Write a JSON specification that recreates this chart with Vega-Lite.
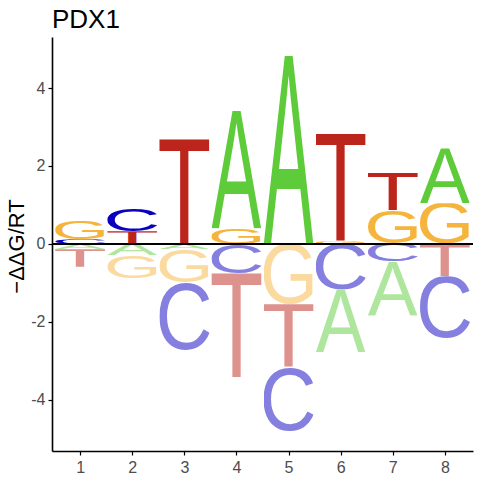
{
  "$schema": "https://vega.github.io/schema/vega-lite/v6.json",
  "autosize": "none",
  "width": 421,
  "height": 414,
  "padding": {"left": 52, "top": 37, "right": 7, "bottom": 29},
  "title": {
    "text": "PDX1",
    "anchor": "start",
    "frame": "group",
    "baseline": "bottom",
    "offset": 5,
    "dy": 27,
    "font": "Liberation Sans",
    "fontSize": 26,
    "fontWeight": "normal",
    "color": "#000000"
  },
  "config": {
    "font": "Liberation Sans",
    "view": {"stroke": null},
    "axis": {
      "domainColor": "#000000",
      "domainWidth": 1.6,
      "tickColor": "#000000",
      "tickWidth": 1.2,
      "tickSize": 4,
      "grid": false,
      "labelFont": "Liberation Sans",
      "labelFontSize": 16,
      "labelColor": "#4D4D4D",
      "titleFont": "Liberation Sans",
      "titleFontWeight": "normal",
      "titleColor": "#000000"
    }
  },
  "data": {
    "values": [
      {"pos": 1, "base": "C", "val": 0.12},
      {"pos": 1, "base": "G", "val": 0.47},
      {"pos": 1, "base": "A", "val": -0.14},
      {"pos": 1, "base": "T", "val": -0.45},
      {"pos": 2, "base": "T", "val": 0.32},
      {"pos": 2, "base": "C", "val": 0.58},
      {"pos": 2, "base": "A", "val": -0.30},
      {"pos": 2, "base": "G", "val": -0.58},
      {"pos": 3, "base": "T", "val": 2.69},
      {"pos": 3, "base": "A", "val": -0.14},
      {"pos": 3, "base": "G", "val": -0.85},
      {"pos": 3, "base": "C", "val": -1.74},
      {"pos": 4, "base": "G", "val": 0.40},
      {"pos": 4, "base": "A", "val": 3.01},
      {"pos": 4, "base": "C", "val": -0.75},
      {"pos": 4, "base": "T", "val": -2.67},
      {"pos": 5, "base": "A", "val": 4.82},
      {"pos": 5, "base": "G", "val": -1.55},
      {"pos": 5, "base": "T", "val": -1.62},
      {"pos": 5, "base": "C", "val": -1.64},
      {"pos": 6, "base": "G", "val": 0.07},
      {"pos": 6, "base": "T", "val": 2.75},
      {"pos": 6, "base": "C", "val": -1.18},
      {"pos": 6, "base": "A", "val": -1.60},
      {"pos": 7, "base": "G", "val": 0.86},
      {"pos": 7, "base": "T", "val": 0.96},
      {"pos": 7, "base": "C", "val": -0.46},
      {"pos": 7, "base": "A", "val": -1.39},
      {"pos": 8, "base": "G", "val": 1.04},
      {"pos": 8, "base": "A", "val": 1.41},
      {"pos": 8, "base": "T", "val": -0.83},
      {"pos": 8, "base": "C", "val": -1.59}
    ]
  },
  "layer": [
    {
      "transform": [
        {"calculate": "abs(datum.val)", "as": "mag"},
        {"stack": "val", "groupby": ["pos"], "sort": [{"field": "mag", "order": "ascending"}], "as": ["y0", "y1"]},
        {"calculate": "datum.pos - 0.48", "as": "xlo"},
        {"calculate": "datum.pos + 0.48", "as": "xhi"},
        {"calculate": "'data:image/svg+xml;utf8,<svg xmlns=\"http://www.w3.org/2000/svg\" viewBox=\"' + {'A': '-1.5 -688 670 688', 'C': '50 -700 633 712', 'G': '48 -700 672 712', 'T': '23 -688 565 688'}[datum.base] + '\" preserveAspectRatio=\"none\"><text font-family=\"Liberation Sans, Arial, sans-serif\" font-size=\"1000\" fill=\"%23' + (datum.val > 0 ? {'A': '5ECC3A', 'C': '0A00C0', 'G': 'F5B43C', 'T': 'BB251B'}[datum.base] : {'A': 'AFE69D', 'C': '8580E0', 'G': 'FADA9E', 'T': 'DD928D'}[datum.base]) + '\">' + datum.base + '</text></svg>'", "as": "glyph"}
      ],
      "mark": {"type": "image", "aspect": false},
      "encoding": {
        "x": {
          "field": "xlo",
          "type": "quantitative",
          "scale": {"domain": [0.46, 8.54], "nice": false, "zero": false},
          "axis": {"values": [1, 2, 3, 4, 5, 6, 7, 8], "title": null, "labelPadding": 4}
        },
        "x2": {"field": "xhi"},
        "y": {
          "field": "y0",
          "type": "quantitative",
          "scale": {"domain": [-5.32, 5.31], "nice": false, "zero": false},
          "axis": {
            "values": [-4, -2, 0, 2, 4],
            "labelExpr": "'' + datum.value",
            "labelPadding": 3,
            "title": "−ΔΔG/RT",
            "titleFontSize": 22,
            "titleAngle": -90,
            "titleAlign": "center",
            "titleBaseline": "middle",
            "titleX": -36,
            "titleY": 209
          }
        },
        "y2": {"field": "y1"},
        "url": {"field": "glyph"}
      }
    },
    {
      "mark": {"type": "rule", "color": "#000000", "strokeWidth": 1},
      "encoding": {"y": {"datum": 0}}
    }
  ]
}
